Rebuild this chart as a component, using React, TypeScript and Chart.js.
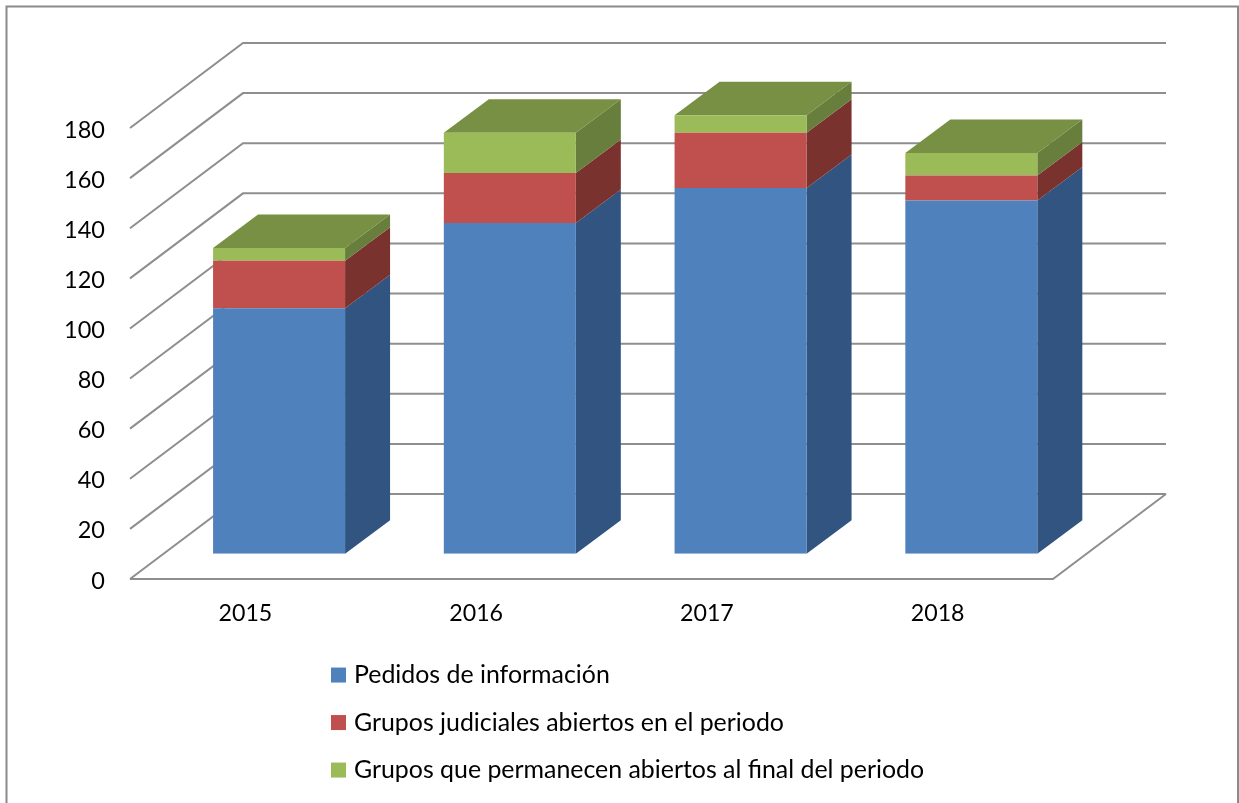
import React, { useEffect, useRef } from "react";
import { Chart, registerables } from "chart.js";

Chart.register(...registerables);

const categories = ["2015", "2016", "2017", "2018"];
const pedidos = [98, 132, 146, 141];
const grupos = [19, 20, 22, 10];
const permanecen = [5, 16, 7, 9];

const labelPedidos = "Pedidos de información";
const labelGrupos = "Grupos judiciales abiertos en el periodo";
const labelPermanecen = "Grupos que permanecen abiertos al final del periodo";

const FRONT = ["#4F81BD", "#C0504D", "#9BBB59"];
const SIDE = ["#325480", "#7A322F", "#677E3C"];
const TOP = "#779043";
const GRID = "#8E8E8E";
const FONT = "Lato";

const WALL = { dx: 113, dy: -85 };
const BAR_SHIFT = { dx: 33.7, dy: -25.2 };
const BAR_DEPTH = { dx: 45, dy: -33.5 };

function poly(ctx: CanvasRenderingContext2D, pts: number[][], fill: string) {
  ctx.fillStyle = fill;
  ctx.beginPath();
  pts.forEach((p, i) => (i ? ctx.lineTo(p[0], p[1]) : ctx.moveTo(p[0], p[1])));
  ctx.closePath();
  ctx.fill();
}

const frame3d = {
  id: "frame3d",
  beforeLayout(chart: any) {
    const l = chart.legend;
    if (l && !l.__patched) {
      const fit = l.fit;
      l.fit = function () {
        fit.call(this);
        this.width = 0;
      };
      l.__patched = true;
    }
  },
  afterLayout(chart: any) {
    const l = chart.legend;
    if (l) {
      l.left = 312.9;
      l.right = 1200;
      l.top = 640;
      l.bottom = 2000;
    }
  },
  beforeDraw(chart: any) {
    const ctx: CanvasRenderingContext2D = chart.ctx;
    ctx.save();
    ctx.strokeStyle = "#8A8A8A";
    ctx.lineWidth = 2;
    ctx.beginPath();
    ctx.moveTo(6.5, 820);
    ctx.lineTo(6.5, 6.5);
    ctx.lineTo(1238, 6.5);
    ctx.lineTo(1238, 820);
    ctx.stroke();
    ctx.restore();
  },
  beforeDatasetsDraw(chart: any) {
    const ctx: CanvasRenderingContext2D = chart.ctx;
    const { left, right } = chart.chartArea;
    const yScale = chart.scales.y;
    ctx.save();
    ctx.strokeStyle = GRID;
    ctx.lineWidth = 2;
    ctx.lineJoin = "miter";
    yScale.ticks.forEach((t: any) => {
      const y = yScale.getPixelForValue(t.value);
      ctx.beginPath();
      ctx.moveTo(left, y);
      ctx.lineTo(left + WALL.dx, y + WALL.dy);
      ctx.lineTo(right + WALL.dx, y + WALL.dy);
      ctx.stroke();
    });
    const y0 = yScale.getPixelForValue(0);
    ctx.beginPath();
    ctx.moveTo(left, y0);
    ctx.lineTo(right, y0);
    ctx.lineTo(right + WALL.dx, y0 + WALL.dy);
    ctx.stroke();
    ctx.restore();

    ctx.save();
    ctx.translate(BAR_SHIFT.dx, BAR_SHIFT.dy);
    const { dx, dy } = BAR_DEPTH;
    const n = chart.data.labels.length;
    for (let i = 0; i < n; i++) {
      chart.data.datasets.forEach((_: any, d: number) => {
        const bar = chart.getDatasetMeta(d).data[i];
        const r = bar.x + bar.width / 2;
        poly(ctx, [[r, bar.base], [r + dx, bar.base + dy], [r + dx, bar.y + dy], [r, bar.y]], SIDE[d]);
      });
      const last = chart.getDatasetMeta(chart.data.datasets.length - 1).data[i];
      const l = last.x - last.width / 2;
      const r = last.x + last.width / 2;
      poly(ctx, [[l, last.y], [l + dx, last.y + dy], [r + dx, last.y + dy], [r, last.y]], TOP);
    }
    ctx.restore();

    ctx.save();
    ctx.translate(BAR_SHIFT.dx, BAR_SHIFT.dy);
  },
  afterDatasetsDraw(chart: any) {
    chart.ctx.restore();
  },
};

export default function App() {
  const ref = useRef<HTMLCanvasElement | null>(null);
  useEffect(() => {
    document.body.style.margin = "0";
    document.body.style.background = "#fff";
    const chart = new Chart(ref.current!, {
      type: "bar",
      data: {
        labels: categories,
        datasets: [
          { label: labelPedidos, data: pedidos, backgroundColor: FRONT[0], borderWidth: 0 },
          { label: labelGrupos, data: grupos, backgroundColor: FRONT[1], borderWidth: 0 },
          { label: labelPermanecen, data: permanecen, backgroundColor: FRONT[2], borderWidth: 0 },
        ],
      },
      options: {
        responsive: false,
        animation: false,
        layout: { padding: { left: 40, right: 186, top: 128, bottom: 154 } },
        datasets: { bar: { barPercentage: 132 / 230.75, categoryPercentage: 1 } },
        scales: {
          x: {
            stacked: true,
            grid: { display: false, drawTicks: false },
            border: { display: false },
            ticks: { color: "#000", font: { family: FONT, size: 23.2 }, padding: 21, maxRotation: 0 },
            afterFit: (s: any) => { s.height = 70; },
          },
          y: {
            stacked: true,
            min: 0,
            max: 180,
            grid: { display: false, drawTicks: false },
            border: { display: false },
            ticks: { stepSize: 20, color: "#000", font: { family: FONT, size: 23.5 }, padding: 25, labelOffset: 2 },
            afterFit: (s: any) => { s.width = 90; },
          },
        },
        plugins: {
          tooltip: { enabled: false },
          legend: {
            position: "right",
            align: "start",
            labels: {
              color: "#000",
              font: { family: FONT, size: 24.9 },
              usePointStyle: true,
              pointStyle: "rect",
              boxWidth: 6,
              boxHeight: 15,
              padding: 22.6,
            },
          },
        },
      } as any,
      plugins: [frame3d],
    });
    return () => chart.destroy();
  }, []);
  return <canvas ref={ref} width={1239} height={803} style={{ display: "block" }} />;
}
